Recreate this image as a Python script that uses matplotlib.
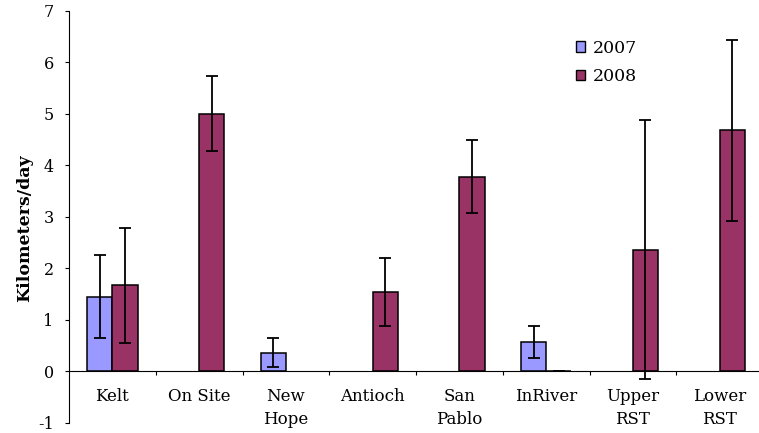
import numpy as np
import matplotlib
matplotlib.use("Agg")
import matplotlib.pyplot as plt
from matplotlib.patches import Patch

categories = ["Kelt", "On Site", "New\nHope", "Antioch", "San\nPablo", "InRiver", "Upper\nRST", "Lower\nRST"]
series_names = ["2007", "2008"]
values_2007 = [1.45, np.nan, 0.36, np.nan, np.nan, 0.56, np.nan, np.nan]
err_2007 = [0.81, np.nan, 0.28, np.nan, np.nan, 0.31, np.nan, np.nan]
values_2008 = [1.67, 5.00, np.nan, 1.54, 3.78, 0.0, 2.36, 4.68]
err_2008 = [1.12, 0.73, np.nan, 0.66, 0.70, 0.0, 2.52, 1.76]
y_ticks = [-1, 0, 1, 2, 3, 4, 5, 6, 7]

colors = ["#9999FF", "#993366"]
plt.rcParams["font.family"] = ["DejaVu Serif"]

fig = plt.figure(figsize=(7.59, 4.33), dpi=100)
ax = fig.add_axes([69 / 759, 10.3 / 433, 694 / 759, 412.0 / 433])

x = np.arange(len(categories))
w = 0.29
for i, (vals, errs) in enumerate([(values_2007, err_2007), (values_2008, err_2008)]):
    pos = x + (i - 0.5) * w
    vals = np.array(vals, dtype=float)
    errs = np.array(errs, dtype=float)
    m = ~np.isnan(vals)
    ax.bar(pos[m], vals[m], width=w, color=colors[i], edgecolor="black",
           linewidth=1.1, zorder=2)
    ax.errorbar(pos[m], vals[m], yerr=errs[m], fmt="none", ecolor="black",
                elinewidth=1.3, capsize=4.3, capthick=1.3, zorder=3)

ax.set_xlim(-0.5, 7.5)
ax.set_ylim(-1, 7)
ax.set_yticks(y_ticks)
ax.set_yticklabels([str(t) for t in y_ticks], fontsize=11.5)
ax.tick_params(axis="y", direction="out", length=3, width=0.8, pad=8)

for s in ["top", "right"]:
    ax.spines[s].set_visible(False)
ax.spines["bottom"].set_position(("data", 0))
ax.spines["bottom"].set_linewidth(0.8)
ax.spines["left"].set_linewidth(0.8)

ax.set_xticks(np.arange(0.5, len(categories) - 0.5, 1.0))
ax.set_xticklabels([])
ax.tick_params(axis="x", which="major", direction="out", length=3, width=0.8)
ax.set_xticks(x, minor=True)
ax.set_xticklabels(categories, minor=True, fontsize=12, linespacing=1.45)
ax.tick_params(axis="x", which="minor", length=0, pad=12)

fig.text(25 / 759, (433 - 228) / 433, "Kilometers/day", rotation=90,
         ha="center", va="center", fontsize=12.5, fontweight="bold")

handles = [Patch(facecolor=colors[i], edgecolor="black", linewidth=1.0) for i in range(2)]
ax.legend(handles, series_names, loc="upper left", bbox_to_anchor=(560 / 759, (433 - 24) / 433),
          bbox_transform=fig.transFigure, frameon=False, fontsize=12.5,
          handlelength=0.55, handleheight=0.55, handletextpad=0.45, labelspacing=0.65)

fig.savefig("out.png", dpi=100)
